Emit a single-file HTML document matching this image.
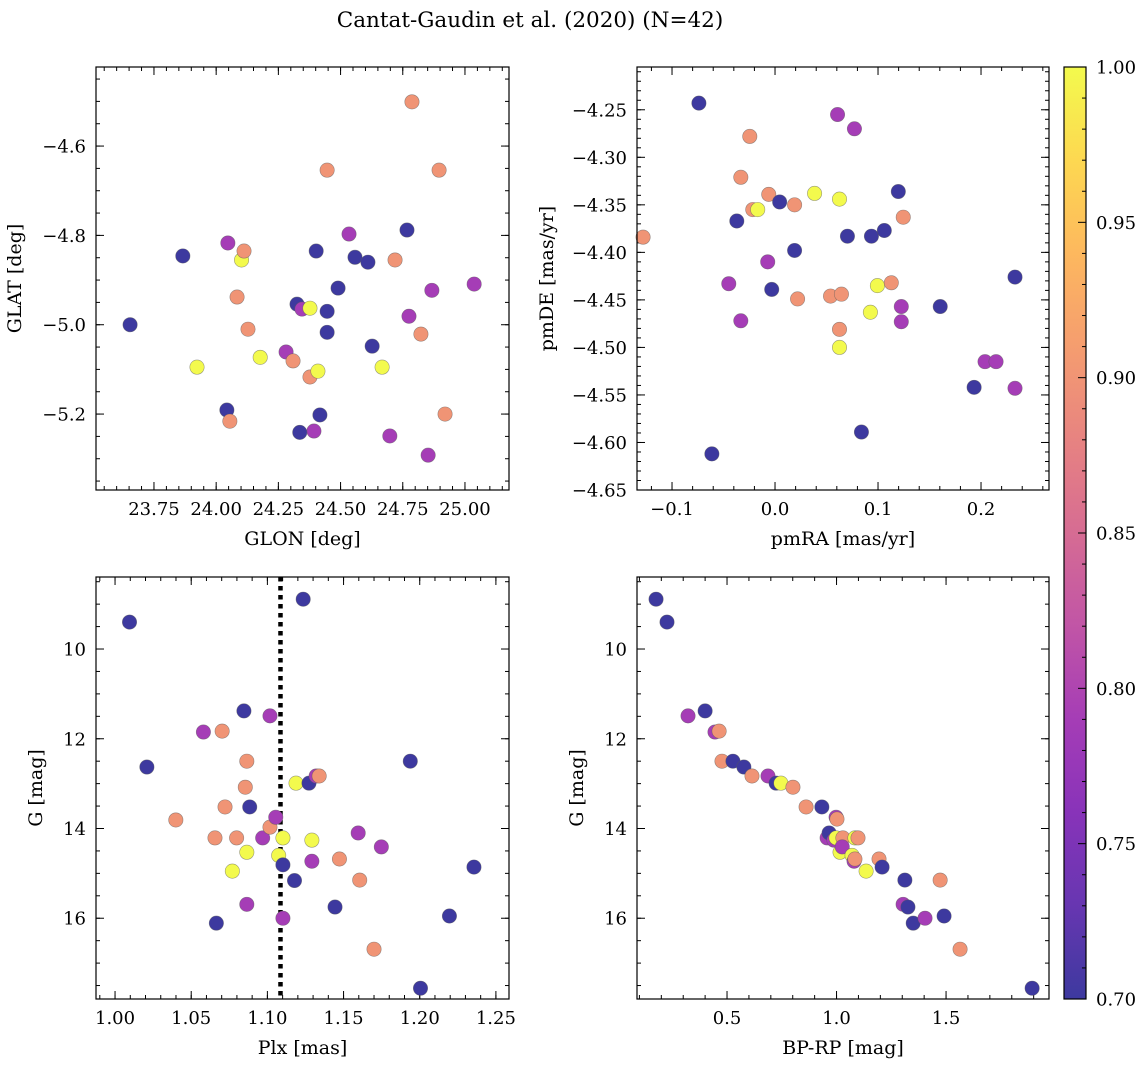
<!DOCTYPE html>
<html><head><meta charset="utf-8"><style>
html,body{margin:0;padding:0;background:#fff;}
svg{display:block;font-family:"DejaVu Serif","Liberation Serif",serif;}
</style></head><body>
<svg id="fig" width="1148" height="1067" viewBox="0 0 1148 1067">
<text x="530" y="27" text-anchor="middle" font-size="21.5">Cantat-Gaudin et al. (2020) (N=42)</text>
</svg>
<script>
// ---- data ----
const glon=[23.654,23.866,23.923,24.047,24.043,24.055,24.102,24.112,24.084,24.128,24.177,24.281,24.309,24.325,24.345,24.377,24.377,24.409,24.393,24.336,24.402,24.417,24.446,24.446,24.446,24.490,24.534,24.558,24.610,24.627,24.667,24.698,24.719,24.767,24.775,24.787,24.823,24.867,24.852,24.896,24.920,25.037];
const glat=[-5.0,-4.846,-5.095,-4.817,-5.191,-5.216,-4.855,-4.835,-4.938,-5.010,-5.073,-5.061,-5.081,-4.954,-4.965,-4.963,-5.117,-5.104,-5.238,-5.241,-4.835,-5.202,-4.970,-5.017,-4.654,-4.918,-4.797,-4.849,-4.860,-5.048,-5.095,-5.249,-4.855,-4.788,-4.981,-4.501,-5.021,-4.923,-5.292,-4.654,-5.200,-4.909];
const prob1=[0.70,0.70,1.0,0.79,0.70,0.90,1.0,0.90,0.90,0.90,1.0,0.79,0.90,0.70,0.79,1.0,0.90,1.0,0.79,0.70,0.70,0.70,0.70,0.70,0.90,0.70,0.79,0.70,0.70,0.70,1.0,0.79,0.90,0.70,0.79,0.90,0.90,0.79,0.79,0.90,0.90,0.79];
const pmra=[-0.0739,-0.1281,-0.0245,-0.0332,-0.0371,-0.0216,-0.0168,-0.0061,0.0045,-0.0071,-0.0449,-0.0332,-0.0032,0.0190,0.0190,0.0219,0.0384,0.0539,0.0607,0.0626,0.0626,0.0626,0.0645,0.0703,0.0771,0.0839,0.0936,0.0926,0.0994,0.1061,0.1129,0.1197,0.1226,0.1226,0.1245,0.1604,0.1933,0.2039,0.2146,0.2330,0.2330,-0.0613];
const pmde=[-4.243,-4.384,-4.278,-4.321,-4.367,-4.355,-4.355,-4.339,-4.347,-4.410,-4.433,-4.472,-4.439,-4.350,-4.398,-4.449,-4.338,-4.446,-4.255,-4.344,-4.481,-4.500,-4.444,-4.383,-4.270,-4.589,-4.383,-4.463,-4.435,-4.377,-4.432,-4.336,-4.457,-4.473,-4.363,-4.457,-4.542,-4.515,-4.515,-4.426,-4.543,-4.612];
const prob2=[0.70,0.90,0.90,0.90,0.70,0.90,1.0,0.90,0.70,0.79,0.79,0.79,0.70,0.90,0.70,0.90,1.0,0.90,0.79,1.0,0.90,1.0,0.90,0.70,0.79,0.70,0.70,1.0,1.0,0.70,0.90,0.70,0.79,0.79,0.90,0.70,0.70,0.79,0.79,0.70,0.79,0.70];
const plx=[1.0095,1.0209,1.0399,1.058,1.0703,1.0722,1.0656,1.0665,1.077,1.0798,1.0846,1.0865,1.0855,1.0884,1.0865,1.0865,1.0969,1.1017,1.1017,1.1055,1.1074,1.1102,1.1102,1.1102,1.1188,1.1178,1.1235,1.1273,1.132,1.1292,1.1292,1.134,1.1444,1.1473,1.1596,1.1606,1.17,1.1748,1.1938,1.2005,1.2195,1.2356];
const gmag3=[9.40,12.63,13.81,11.85,11.83,13.52,14.21,16.11,14.95,14.21,11.38,12.50,13.08,13.52,14.53,15.69,14.21,11.49,13.97,13.75,14.60,14.21,14.81,16.00,12.99,15.16,8.89,12.99,12.83,14.26,14.73,12.83,15.75,14.68,14.10,15.15,16.69,14.41,12.50,17.56,15.95,14.86];
const prob3=[0.70,0.70,0.90,0.79,0.90,0.90,0.90,0.70,1.0,0.90,0.70,0.90,0.90,0.70,1.0,0.79,0.79,0.79,0.90,0.79,1.0,1.0,0.70,0.79,1.0,0.70,0.70,0.70,0.79,1.0,0.79,0.90,0.70,0.90,0.79,0.90,0.90,0.79,0.70,0.70,0.70,0.70];
const plxMean=[1.1086];
const bprp=[0.176,0.226,0.322,0.400,0.445,0.464,0.477,0.527,0.577,0.614,0.687,0.724,0.746,0.801,0.861,0.933,0.957,0.966,0.998,1.002,0.988,0.998,1.016,1.029,1.026,1.071,1.084,1.098,1.080,1.084,1.135,1.194,1.208,1.304,1.312,1.326,1.350,1.404,1.473,1.491,1.564,1.893];
const gmag4=[8.89,9.40,11.49,11.38,11.85,11.83,12.50,12.50,12.63,12.83,12.83,12.99,12.99,13.08,13.52,13.52,14.21,14.10,13.75,13.79,14.26,14.21,14.53,14.21,14.41,14.60,14.21,14.21,14.73,14.68,14.95,14.68,14.86,15.69,15.15,15.75,16.11,16.00,15.15,15.95,16.69,17.56];
const prob4=[0.70,0.70,0.79,0.70,0.79,0.90,0.90,0.70,0.70,0.90,0.79,0.70,1.0,0.90,0.90,0.70,0.79,0.70,0.79,0.90,0.79,1.0,1.0,0.90,0.79,1.0,1.0,0.90,0.79,0.90,1.0,0.90,0.70,0.79,0.70,0.70,0.70,0.79,0.90,0.70,0.90,0.70];
const cbTicks=[0.70,0.75,0.80,0.85,0.90,0.95,1.00];

const NS='http://www.w3.org/2000/svg';
const svg=document.getElementById('fig');
const stops=['#0d0887','#41049d','#6a00a8','#8f0da4','#b12a90','#cc4778','#e16462','#f2844b','#fca636','#fcce25','#f0f921'];
function hx(c){return [1,3,5].map(i=>parseInt(c.substr(i,2),16));}
function plasma(t){t=Math.max(0,Math.min(1,t));const f=t*10,i=Math.min(9,Math.floor(f)),u=f-i;const a=hx(stops[i]),b=hx(stops[i+1]);
 const c=a.map((v,k)=>Math.round((v+(b[k]-v)*u)*0.8+255*0.2));return `rgb(${c[0]},${c[1]},${c[2]})`;}
function mk(tag,attrs,parent){const e=document.createElementNS(NS,tag);for(const k in attrs)e.setAttribute(k,attrs[k]);(parent||svg).appendChild(e);return e;}
function fmt(v,d){const s=Math.abs(v).toFixed(d);return (v<-1e-9?'\u2212':'')+s;}
const TF=18, LF=19;

function panel(o){
 const g=mk('g',{});
 
 
 const X=v=>o.x0+(v-o.xmin)/(o.xmax-o.xmin)*(o.x1-o.x0);
 const Y=o.invert?(v=>o.y0+(v-o.ymin)/(o.ymax-o.ymin)*(o.y1-o.y0)):(v=>o.y1-(v-o.ymin)/(o.ymax-o.ymin)*(o.y1-o.y0));
 const eps=1e-9;
 function ticksX(step,len,lab){const s=Math.ceil(o.xmin/step-eps);for(let k=s;k*step<=o.xmax+eps;k++){const v=k*step,px=X(v);
   mk('line',{x1:px,y1:o.y1,x2:px,y2:o.y1-len,stroke:'#000','stroke-width':1},g);mk('line',{x1:px,y1:o.y0,x2:px,y2:o.y0+len,stroke:'#000','stroke-width':1},g);
   if(lab){const t=mk('text',{x:px,y:o.y1+25,'text-anchor':'middle','font-size':TF},g);t.textContent=fmt(v,o.xd);}}}
 function ticksY(step,len,lab){const lo=Math.min(o.ymin,o.ymax),hi=Math.max(o.ymin,o.ymax);const s=Math.ceil(lo/step-eps);for(let k=s;k*step<=hi+eps;k++){const v=k*step,py=Y(v);
   mk('line',{x1:o.x0,y1:py,x2:o.x0+len,y2:py,stroke:'#000','stroke-width':1},g);mk('line',{x1:o.x1,y1:py,x2:o.x1-len,y2:py,stroke:'#000','stroke-width':1},g);
   if(lab){const t=mk('text',{x:o.x0-10,y:py+6.5,'text-anchor':'end','font-size':TF},g);t.textContent=fmt(v,o.yd);}}}
 ticksX(o.xmin_step,4,false);ticksX(o.xstep,8,true);ticksY(o.ymin_step,4,false);ticksY(o.ystep,8,true);
 if(o.vline!==undefined){const l=mk('line',{x1:X(o.vline),x2:X(o.vline),y1:o.y0,y2:o.y1,stroke:'#000','stroke-width':4.5,'stroke-dasharray':'4.5 4.5'},g);
   }
 for(let i=0;i<o.xs.length;i++){const c=mk('circle',{cx:X(o.xs[i]),cy:Y(o.ys[i]),r:7.2,fill:plasma((o.cs[i]-0.7)/0.3),stroke:'rgba(90,90,90,0.6)','stroke-width':0.6},g);
   }
 const fr=mk('rect',{x:o.x0,y:o.y0,width:o.x1-o.x0,height:o.y1-o.y0,fill:'none',stroke:'#000','stroke-width':1.2},g);
 
 const xl=mk('text',{x:(o.x0+o.x1)/2,y:o.y1+55,'text-anchor':'middle','font-size':LF},g);xl.textContent=o.xlabel;
 
 const yx=o.x0-o.ylo,yy=(o.y0+o.y1)/2;const yl=mk('text',{x:yx,y:yy,'text-anchor':'middle','font-size':LF,transform:`rotate(-90 ${yx} ${yy})`},g);yl.textContent=o.ylabel;
 
}
panel({name:'glon-glat-panel',x0:96,x1:509,y0:67,y1:490,xmin:23.517,xmax:25.177,ymin:-5.370,ymax:-4.423,xstep:0.25,xmin_step:0.05,ystep:0.2,ymin_step:0.05,xd:2,yd:1,xs:glon,ys:glat,cs:prob1,xlabel:'GLON [deg]',ylabel:'GLAT [deg]',ylo:75});
panel({name:'proper-motion-panel',x0:637,x1:1049,y0:67,y1:490,xmin:-0.134,xmax:0.266,ymin:-4.65,ymax:-4.205,xstep:0.1,xmin_step:0.02,ystep:0.05,ymin_step:0.01,xd:1,yd:2,xs:pmra,ys:pmde,cs:prob2,xlabel:'pmRA [mas/yr]',ylabel:'pmDE [mas/yr]',ylo:84});
panel({name:'parallax-mag-panel',x0:96,x1:509,y0:577,y1:999,xmin:0.9875,xmax:1.2586,ymin:8.395,ymax:17.80,invert:true,xstep:0.05,xmin_step:0.01,ystep:2,ymin_step:0.5,xd:2,yd:0,xs:plx,ys:gmag3,cs:prob3,xlabel:'Plx [mas]',ylabel:'G [mag]',ylo:54,vline:plxMean[0]});
panel({name:'cmd-panel',x0:637,x1:1049,y0:577,y1:999,xmin:0.089,xmax:1.970,ymin:8.395,ymax:17.80,invert:true,xstep:0.5,xmin_step:0.1,ystep:2,ymin_step:0.5,xd:1,yd:0,xs:bprp,ys:gmag4,cs:prob4,xlabel:'BP-RP [mag]',ylabel:'G [mag]',ylo:54});
// colorbar
const cb=mk('g',{});


const defs=mk('defs',{},cb);const lg=mk('linearGradient',{id:'cbg',x1:0,y1:1,x2:0,y2:0},defs);
for(let i=0;i<=20;i++)mk('stop',{offset:i/20,'stop-color':plasma(i/20)},lg);
const cx0=1064,cx1=1086,cy0=67,cy1=999;
mk('rect',{x:cx0,y:cy0,width:cx1-cx0,height:cy1-cy0,fill:'url(#cbg)',stroke:'#000','stroke-width':1.2},cb);
const CY=v=>cy1-(v-0.7)/0.3*(cy1-cy0);
for(let k=70;k<=100;k++){const py=CY(k/100);mk('line',{x1:cx1,x2:cx1-(k%5?4:8),y1:py,y2:py,stroke:'#000'},cb);}
cbTicks.forEach(v=>{const t=mk('text',{x:cx1+10,y:CY(v)+6.5,'font-size':TF},cb);t.textContent=v.toFixed(2);
 });
</script>
</body></html>
